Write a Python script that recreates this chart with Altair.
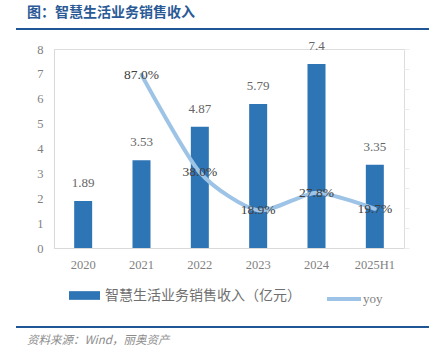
import altair as alt
import pandas as pd

years = ["2020", "2021", "2022", "2023", "2024", "2025H1"]
revenue = [1.89, 3.53, 4.87, 5.79, 7.4, 3.35]
rev_labels = ["1.89", "3.53", "4.87", "5.79", "7.4", "3.35"]
yoy_years = ["2021", "2022", "2023", "2024", "2025H1"]
yoy = [0.870, 0.380, 0.189, 0.278, 0.197]
yoy_labels = ["87.0%", "38.0%", "18.9%", "27.8%", "19.7%"]
bar_name = "智慧生活业务销售收入（亿元）"
line_name = "yoy"
title_text = "图：智慧生活业务销售收入"
source_text = "资料来源：Wind，丽奥资产"

W, H = 350, 199
BAR = "#2e75b6"
LINE = "#9dc3e6"
NAVY = "#2a5a96"
SERIF = "Liberation Serif"
CJK = "Noto Sans CJK SC"
AXIS_LABEL = "#7f7f7f"

bars_df = pd.DataFrame({"year": years, "rev": revenue, "lab": rev_labels,
                        "series": [bar_name] * len(years)})
line_df = pd.DataFrame({"year": yoy_years, "yoy": yoy, "lab": yoy_labels,
                        "series": [line_name] * len(yoy_years)})

x = alt.X("year:N", sort=years,
          scale=alt.Scale(paddingInner=0.6, paddingOuter=0.3),
          axis=alt.Axis(title=None, labelAngle=0, ticks=False, domainColor="#d9d9d9",
                        labelFont=SERIF, labelFontSize=12.5, labelColor=AXIS_LABEL,
                        labelPadding=10))

y_left = alt.Y("rev:Q", scale=alt.Scale(domain=[0, 8], nice=False),
               axis=alt.Axis(title=None, values=list(range(9)), grid=False, ticks=False,
                             domainColor="#d9d9d9", labelFont=SERIF, labelFontSize=12.5,
                             labelColor=AXIS_LABEL, labelPadding=11))

bars = alt.Chart(bars_df).mark_bar(size=18).encode(
    x=x, y=y_left,
    fill=alt.Fill("series:N", scale=alt.Scale(domain=[bar_name], range=[BAR]),
                  legend=alt.Legend(title=None, orient="none", legendX=15, legendY=231,
                                    direction="horizontal", padding=0,
                                    symbolType="M-1,-0.28H1V0.28H-1Z", symbolSize=961,
                                    symbolStrokeWidth=0, labelFont=CJK, labelFontSize=14,
                                    labelColor="#6f6f6f", labelLimit=400, labelOffset=5)),
)
bar_text = alt.Chart(bars_df).mark_text(baseline="middle", dy=-18, font=SERIF,
                                        fontSize=13, color="#666666").encode(
    x=x, y=y_left, text="lab:N")
left = alt.layer(bars, bar_text)

y_right = alt.Y("yoy:Q", scale=alt.Scale(domain=[0, 1], nice=False),
                axis=alt.Axis(title=None, orient="right", values=[i / 10 for i in range(11)],
                              labels=False, domain=False, grid=False, ticks=True,
                              tickColor="#ececec", tickSize=5))
line = alt.Chart(line_df).mark_line(interpolate="cardinal", tension=0.3, strokeWidth=4,
                                    strokeCap="round").encode(
    x=x, y=y_right,
    stroke=alt.Stroke("series:N", scale=alt.Scale(domain=[line_name], range=[LINE]),
                      legend=alt.Legend(title=None, orient="none", legendX=271, legendY=231,
                                        direction="horizontal", padding=0,
                                        symbolType="stroke", symbolSize=1156,
                                        symbolStrokeWidth=4, labelFont=SERIF,
                                        labelFontSize=13, labelColor="#7f7f7f",
                                        labelOffset=0)),
)
line_text = alt.Chart(line_df).mark_text(baseline="middle", font=SERIF, fontSize=13.5,
                                         color="#404040").encode(
    x=x, y=y_right, text="lab:N")
right = alt.layer(line, line_text)

one = pd.DataFrame({"t": [title_text], "s": [source_text]})
title = alt.Chart(one).mark_text(align="left", baseline="middle", font=CJK, fontSize=14,
                                 fontWeight="bold", color=NAVY).encode(
    x=alt.value(-27), y=alt.value(-36), text="t:N")
rule_top = alt.Chart(one).mark_rule(color="#1f5796", strokeWidth=2).encode(
    x=alt.value(-38), x2=alt.value(375), y=alt.value(-20))
rule_bot = alt.Chart(one).mark_rule(color="#1f5796", strokeWidth=2).encode(
    x=alt.value(-38), x2=alt.value(375), y=alt.value(278))
source = alt.Chart(one).mark_text(align="left", baseline="middle", font=CJK, fontSize=11.5,
                                  fontStyle="italic", color="#8c8c8c").encode(
    x=alt.value(-27), y=alt.value(292), text="s:N")

chart = alt.layer(left, right, title, rule_top, rule_bot, source).resolve_scale(
    y="independent", fill="independent", stroke="independent"
).properties(
    width=W, height=H,
    autosize=alt.AutoSizeParams(type="none"),
    padding={"left": 54, "top": 49, "right": 32, "bottom": 106},
).configure_view(stroke=None).configure(background="white")

chart.save("out.html", embed_options={"renderer": "svg", "actions": False})
